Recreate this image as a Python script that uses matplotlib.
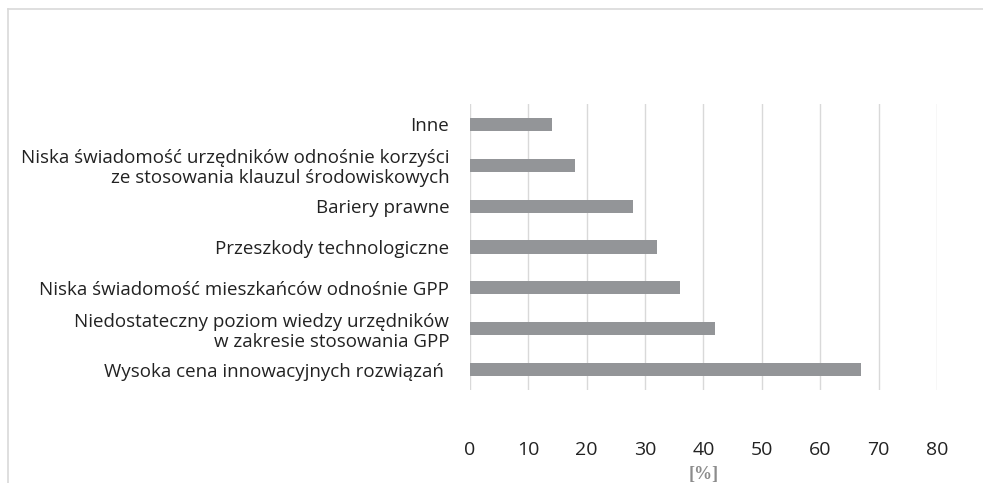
import matplotlib.pyplot as plt
from matplotlib.lines import Line2D

# categories listed bottom to top
categories = [
    "Wysoka cena innowacyjnych rozwiązań ",
    "Niedostateczny poziom wiedzy urzędników\nw zakresie stosowania GPP",
    "Niska świadomość mieszkańców odnośnie GPP",
    "Przeszkody technologiczne",
    "Bariery prawne",
    "Niska świadomość urzędników odnośnie korzyści\nze stosowania klauzul środowiskowych",
    "Inne",
]
values = [67, 42, 36, 32, 28, 18, 14]
x_ticks = [0, 10, 20, 30, 40, 50, 60, 70, 80]

plt.rcParams['font.family'] = ['Open Sans', 'DejaVu Sans']

fig = plt.figure(figsize=(9.83, 4.83), dpi=100)
ax = fig.add_axes([0.4781, 0.1925, 0.4751, 0.5922])

ypos = list(range(len(categories)))
ax.barh(ypos, values, height=0.32, color='#939598', zorder=3)

ax.set_xlim(0, 80)
ax.set_ylim(-0.5, len(categories) - 0.5)
ax.set_xticks(x_ticks)
ax.set_yticks(ypos)
ax.set_yticklabels(categories, fontsize=13.5, color='#222222', linespacing=1.15)
ax.tick_params(axis='x', labelsize=14, colors='#222222', length=0, pad=37)
ax.tick_params(axis='y', length=0, pad=15)
ax.grid(True, axis='x', color='#d9d9d9', linewidth=1.0, zorder=0)
for s in ax.spines.values():
    s.set_visible(False)

ax.set_xlabel('[%]', fontsize=13, fontweight='bold', color='#8c8c8c',
              family='Liberation Serif')
ax.xaxis.set_label_coords(0.5, -0.265)

# light frame at left and top of figure
fig.add_artist(Line2D([8 / 983, 8 / 983], [0, 1 - 9 / 483], color='#d9d9d9', linewidth=1.2))
fig.add_artist(Line2D([8 / 983, 1], [1 - 9 / 483, 1 - 9 / 483], color='#d9d9d9', linewidth=1.2))

fig.savefig('out.png', dpi=100)
